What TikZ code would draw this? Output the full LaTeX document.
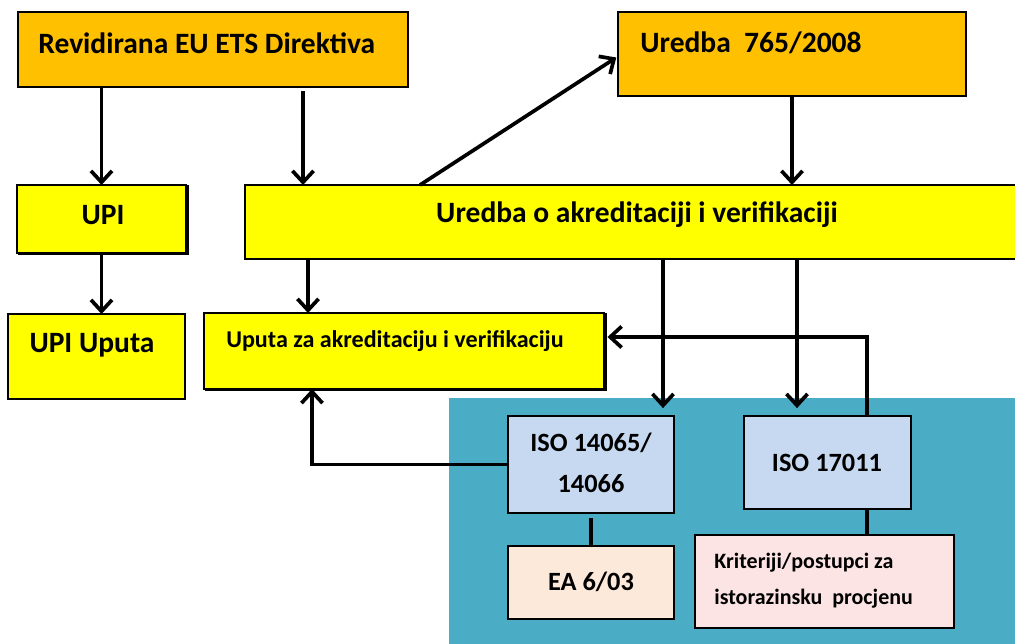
\documentclass[tikz,border=0pt]{standalone}
\usepackage{fontspec}
\setmainfont{Carlito}
\usetikzlibrary{arrows.meta,shadows}
\definecolor{orng}{HTML}{FFC000}
\definecolor{yel}{HTML}{FFFF00}
\definecolor{teal2}{HTML}{4BACC6}
\definecolor{lblue}{HTML}{C6D9F1}
\definecolor{peach}{HTML}{FDE9D9}
\definecolor{pink2}{HTML}{FCE4E4}
\begin{document}
\begin{tikzpicture}[x=0.02cm,y=-0.02cm,
  box/.style={draw=black,line width=1.2pt,inner sep=0pt,outer sep=0pt},
  shd/.style={copy shadow={shadow xshift=1.3pt,shadow yshift=-0.6pt}},
  lbl/.style={inner sep=0pt,font=\bfseries},
  big/.style={font=\bfseries\fontsize{16.8pt}{20pt}\selectfont},
  arr/.style={line width=2.1pt,-{Straight Barb[length=6.5pt,width=12pt]}},
  ln/.style={line width=2.1pt}]
\useasboundingbox (0,0) rectangle (1015,644);
% background zone
\node[fill=teal2,inner sep=0pt,minimum width=11.52cm,minimum height=5.12cm] (zone) at (737,526) {};
% boxes
\node[box,fill=orng,minimum width=7.8cm,minimum height=1.5cm] (rev) at (213,49.5) {};
\node[box,fill=orng,minimum width=6.96cm,minimum height=1.68cm] (ured) at (792,54) {};
\node[box,fill=yel,minimum width=15.6cm,minimum height=1.48cm] (uoa) at (635,222) {};
\node[box,shd,fill=yel,minimum width=3.38cm,minimum height=1.36cm] (upi) at (101.5,219) {};
\node[box,fill=yel,minimum width=3.54cm,minimum height=1.7cm] (upiu) at (96.5,356.5) {};
\node[box,shd,fill=yel,minimum width=8cm,minimum height=1.52cm] (uputa) at (404,351) {};
\node[box,fill=lblue,minimum width=3.32cm,minimum height=1.94cm] (iso1) at (591,464.5) {};
\node[box,fill=lblue,minimum width=3.34cm,minimum height=1.86cm] (iso2) at (827.5,462.5) {};
\node[box,fill=peach,minimum width=3.32cm,minimum height=1.46cm] (ea) at (591,582.5) {};
\node[box,fill=pink2,minimum width=5.18cm,minimum height=1.86cm] (krit) at (824.5,581.5) {};
% texts
\node[lbl,big,anchor=west] (trev) at (38,43) {Revidirana EU ETS Direktiva};
\node[lbl,big,anchor=west] (tured) at (640,43) {Uredba\ \ 765/2008};
\node[lbl,big] (tuoa) at (637,215) {Uredba o akreditaciji i verifikaciji};
\node[lbl,big] (tupi) at (103,215) {UPI};
\node[lbl,big] (tupiu) at (92,345) {UPI Uputa};
\node[lbl,anchor=west,font=\bfseries\fontsize{13.7pt}{17pt}\selectfont] (tuputa) at (226,341) {Uputa za akreditaciju i verifikaciju};
\node[lbl,align=center,font=\bfseries\fontsize{15pt}{23pt}\selectfont] (tiso1) at (591,463) {ISO 14065/\\14066};
\node[lbl,font=\bfseries\fontsize{15pt}{18pt}\selectfont] (tiso2) at (827,463) {ISO 17011};
\node[lbl,font=\bfseries\fontsize{15pt}{18pt}\selectfont] (tea) at (591,582) {EA 6/03};
\node[lbl,anchor=west,align=left,font=\bfseries\fontsize{12.5pt}{20.5pt}\selectfont] (tkrit) at (714,581) {Kriteriji/postupci za\\istorazinsku\ \ procjenu};
% column / row coordinates
\coordinate (c303) at (303,0);
\coordinate (c420) at (420,0);
\coordinate (c308) at (308,0);
\coordinate (c663) at (663,0);
\coordinate (c797) at (797,0);
\coordinate (c867) at (867,0);
\coordinate (c312) at (312,0);
\coordinate (r337) at (0,337);
% connectors
\draw[arr] (rev.south -| upi.north) -- (upi.north);
\draw[arr] ([yshift=-2.5pt]rev.south -| c303) -- (c303 |- uoa.north);
\draw[arr] (uoa.north -| c420) -- ([xshift=-1pt,yshift=-2pt]ured.west);
\draw[arr] (ured.south) -- (ured.south |- uoa.north);
\draw[arr] (upi.south) -- (upi.south |- upiu.north);
\draw[arr] (uoa.south -| c308) -- (c308 |- uputa.north);
\draw[arr,shorten >=4.5pt] (uoa.south -| c663) -- (c663 |- iso1.north);
\draw[arr,shorten >=4.5pt] (uoa.south -| c797) -- (c797 |- iso2.north);
\draw[arr,shorten >=2pt] (iso2.north -| c867) -- (c867 |- r337) -- (uputa.east |- r337);
\draw[arr] (iso1.west) -- (c312 |- iso1.west) -- (c312 |- uputa.south);
\draw[ln] ([yshift=-3pt]iso1.south) -- (ea.north);
\draw[ln] (iso2.south -| c867) -- (c867 |- krit.north);
\end{tikzpicture}
\end{document}
